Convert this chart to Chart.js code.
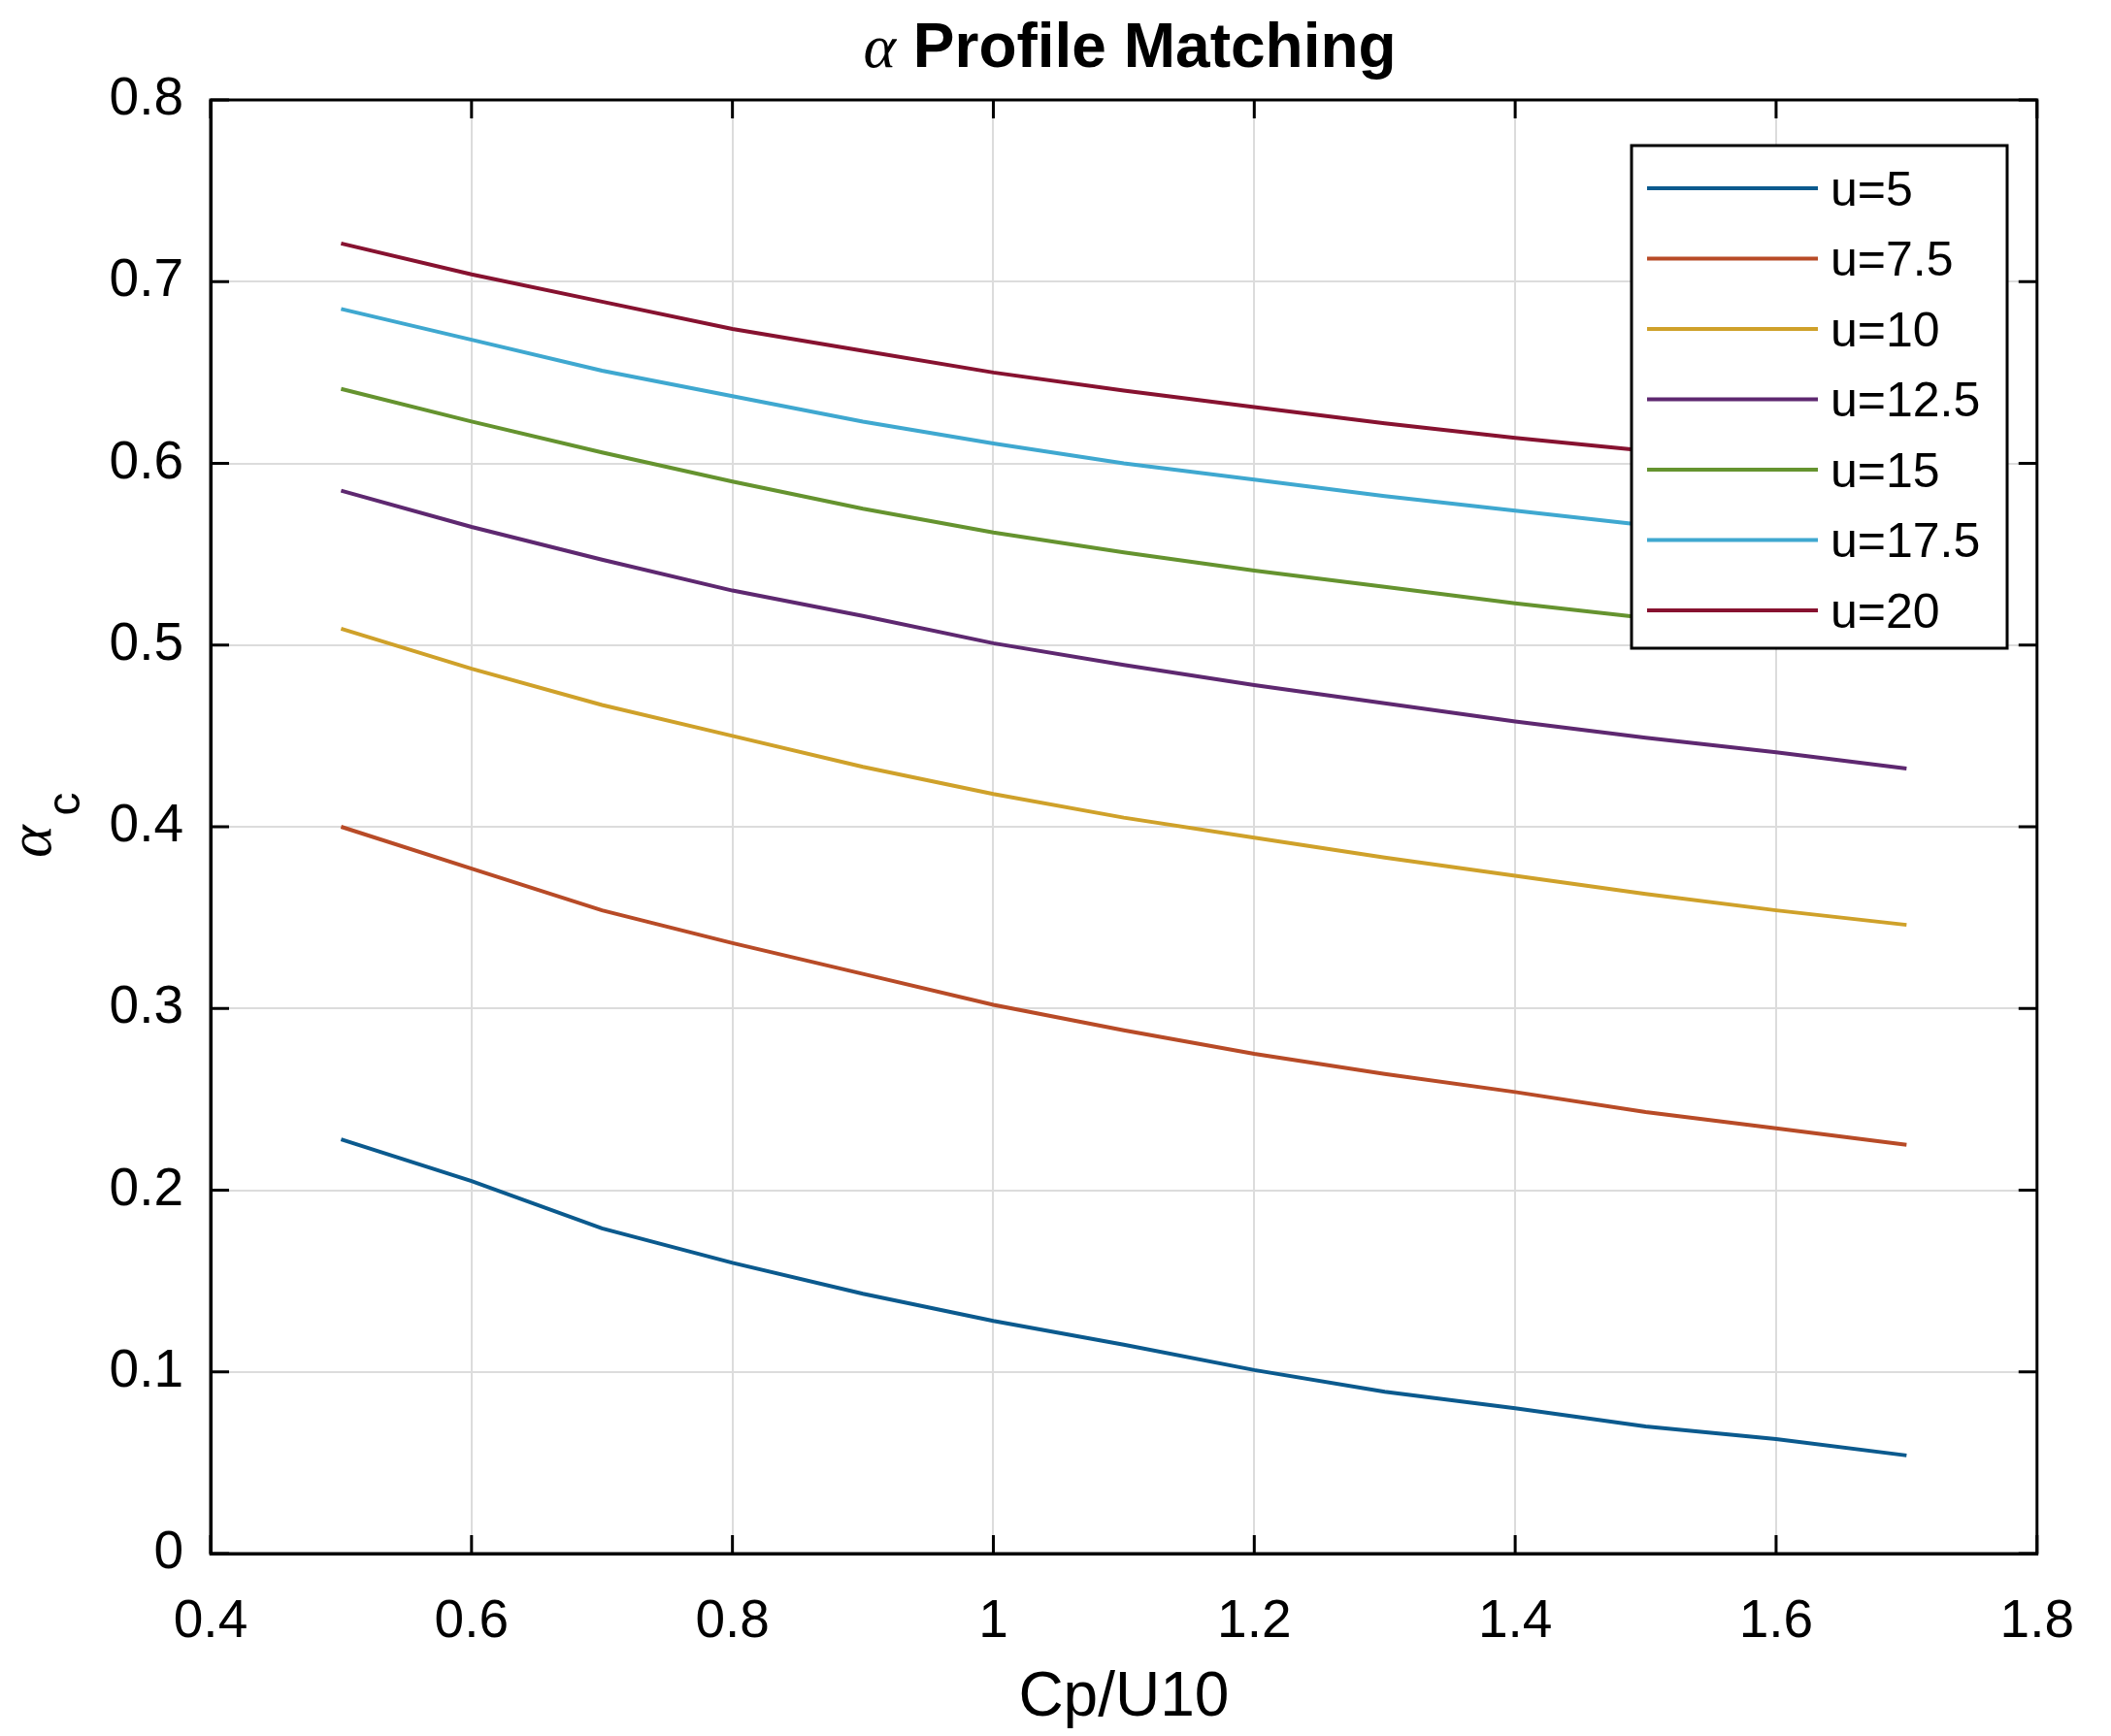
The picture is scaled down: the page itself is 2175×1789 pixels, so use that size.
<!DOCTYPE html>
<html>
<head>
<meta charset="utf-8">
<title>alpha Profile Matching</title>
<script src="https://cdn.jsdelivr.net/npm/chart.js@4/dist/chart.umd.min.js"></script>
<style>
  html, body { margin: 0; padding: 0; background: #fff; }
  canvas { display: block; }
</style>
</head>
<body>
<canvas id="grafico" width="2175" height="1789"></canvas>
<script>
// x values (Cp/U10)
const cpU10 = [0.5, 0.6, 0.7, 0.8, 0.9, 1.0, 1.1, 1.2, 1.3, 1.4, 1.5, 1.6, 1.7];

// alpha_c for each wind speed
const alphaU5   = [0.228, 0.205, 0.179, 0.160, 0.143, 0.128, 0.115, 0.101, 0.089, 0.080, 0.070, 0.063, 0.054];
const alphaU7_5 = [0.400, 0.377, 0.354, 0.336, 0.319, 0.302, 0.288, 0.275, 0.264, 0.254, 0.243, 0.234, 0.225];
const alphaU10  = [0.509, 0.487, 0.467, 0.450, 0.433, 0.418, 0.405, 0.394, 0.383, 0.373, 0.363, 0.354, 0.346];
const alphaU12_5 = [0.585, 0.565, 0.547, 0.530, 0.516, 0.501, 0.489, 0.478, 0.468, 0.458, 0.449, 0.441, 0.432];
const alphaU15  = [0.641, 0.623, 0.606, 0.590, 0.575, 0.562, 0.551, 0.541, 0.532, 0.523, 0.515, 0.507, 0.500];
const alphaU17_5 = [0.685, 0.668, 0.651, 0.637, 0.623, 0.611, 0.600, 0.591, 0.582, 0.574, 0.566, 0.559, 0.552];
const alphaU20  = [0.721, 0.704, 0.689, 0.674, 0.662, 0.650, 0.640, 0.631, 0.622, 0.614, 0.607, 0.600, 0.594];

const seriesNames = ["u=5", "u=7.5", "u=10", "u=12.5", "u=15", "u=17.5", "u=20"];
const seriesValues = [alphaU5, alphaU7_5, alphaU10, alphaU12_5, alphaU15, alphaU17_5, alphaU20];
const seriesColors = ["#0b5a8e", "#b84b27", "#cfa12a", "#5e2870", "#65932f", "#3fa8d0", "#871230"];

// tick labels
const xTicks = [0.4, 0.6, 0.8, 1.0, 1.2, 1.4, 1.6, 1.8];
const yTicks = [0, 0.1, 0.2, 0.3, 0.4, 0.5, 0.6, 0.7, 0.8];

const FONT = "'Liberation Sans', Arial, Helvetica, sans-serif";

// Titulo, rotulo y, ticks internos, caixa e legenda
const extras = {
    id: "extras",
    afterDraw(chart) {
        const ctx = chart.ctx;
        const a = chart.chartArea;
        const xs = chart.scales.x;
        const ys = chart.scales.y;
        ctx.save();

        // ticks para dentro, nos quatro lados
        ctx.strokeStyle = "#000";
        ctx.lineWidth = 3;
        const tl = 19;
        ctx.beginPath();
        xTicks.forEach(v => {
            const px = xs.getPixelForValue(v);
            ctx.moveTo(px, a.bottom); ctx.lineTo(px, a.bottom - tl);
            ctx.moveTo(px, a.top); ctx.lineTo(px, a.top + tl);
        });
        yTicks.forEach(v => {
            const py = ys.getPixelForValue(v);
            ctx.moveTo(a.left, py); ctx.lineTo(a.left + tl, py);
            ctx.moveTo(a.right, py); ctx.lineTo(a.right - tl, py);
        });
        ctx.stroke();
        ctx.strokeRect(a.left, a.top, a.right - a.left, a.bottom - a.top);

        // titulo
        ctx.fillStyle = "#000";
        ctx.textBaseline = "alphabetic";
        ctx.textAlign = "left";
        const fAlpha = "italic 64px 'Liberation Serif', 'Times New Roman', serif";
        const fTitle = "bold 64px " + FONT;
        ctx.font = fAlpha;
        const wA = ctx.measureText("\u03b1").width;
        ctx.font = fTitle;
        const wT = ctx.measureText(" Profile Matching").width;
        const x0 = 1164 - (wA + wT) / 2;
        ctx.font = fAlpha;
        ctx.fillText("\u03b1", x0, 69);
        ctx.font = fTitle;
        ctx.fillText(" Profile Matching", x0 + wA, 69);

        // rotulo do eixo y: alpha com subscrito c
        ctx.save();
        ctx.translate(52, 884);
        ctx.rotate(-Math.PI / 2);
        ctx.font = "italic 64px 'Liberation Serif', 'Times New Roman', serif";
        ctx.fillText("\u03b1", 0, 0);
        const wa = ctx.measureText("\u03b1").width;
        ctx.font = "48px " + FONT;
        ctx.fillText("c", wa + 10, 30);
        ctx.restore();

        // legenda
        const lx = 1681, ly = 150, lw = 387, lh = 518;
        ctx.fillStyle = "#fff";
        ctx.fillRect(lx, ly, lw, lh);
        ctx.strokeStyle = "#000";
        ctx.lineWidth = 3;
        ctx.strokeRect(lx, ly, lw, lh);
        ctx.font = "50px " + FONT;
        ctx.textBaseline = "middle";
        chart.data.datasets.forEach((ds, i) => {
            const cy = 194 + i * 72.5;
            ctx.strokeStyle = ds.borderColor;
            ctx.lineWidth = 4;
            ctx.beginPath();
            ctx.moveTo(1697, cy);
            ctx.lineTo(1873, cy);
            ctx.stroke();
            ctx.fillStyle = "#000";
            ctx.fillText(ds.label, 1886, cy + 4);
        });
        ctx.restore();
    }
};

const datasets = seriesNames.map((name, i) => ({
    label: name,
    data: cpU10.map((x, j) => ({ x: x, y: seriesValues[i][j] })),
    borderColor: seriesColors[i],
    backgroundColor: seriesColors[i],
    borderWidth: 4,
    pointRadius: 0,
    tension: 0,
    fill: false
}));

new Chart(document.getElementById("grafico"), {
    type: "line",
    data: { datasets: datasets },
    plugins: [extras],
    options: {
        responsive: false,
        animation: false,
        devicePixelRatio: 1,
        layout: { padding: { top: 103, right: 60, left: 0, bottom: 0 } },
        plugins: {
            legend: { display: false },
            title: { display: false },
            tooltip: { enabled: false }
        },
        scales: {
            x: {
                type: "linear",
                min: 0.4,
                max: 1.8,
                afterBuildTicks: s => { s.ticks = xTicks.map(v => ({ value: v })); },
                afterFit: s => { s.height = 188; },
                grid: { color: "#dcdcdc", lineWidth: 2, drawTicks: false },
                border: { display: true, color: "#000", width: 3 },
                ticks: {
                    color: "#000",
                    font: { family: FONT, size: 55 },
                    padding: 38,
                    maxRotation: 0,
                    callback: v => String(Number(v.toFixed(1)))
                },
                title: {
                    display: true,
                    text: "Cp/U10",
                    color: "#000",
                    font: { family: FONT, size: 64 },
                    padding: { top: 0, bottom: 0 }
                }
            },
            y: {
                type: "linear",
                min: 0,
                max: 0.8,
                afterBuildTicks: s => { s.ticks = yTicks.map(v => ({ value: v })); },
                afterFit: s => { s.width = 217; },
                grid: { color: "#dcdcdc", lineWidth: 2, drawTicks: false },
                border: { display: true, color: "#000", width: 3 },
                ticks: {
                    color: "#000",
                    font: { family: FONT, size: 55 },
                    padding: 28,
                    callback: v => String(Number(v.toFixed(1)))
                }
            }
        }
    }
});
</script>
</body>
</html>
